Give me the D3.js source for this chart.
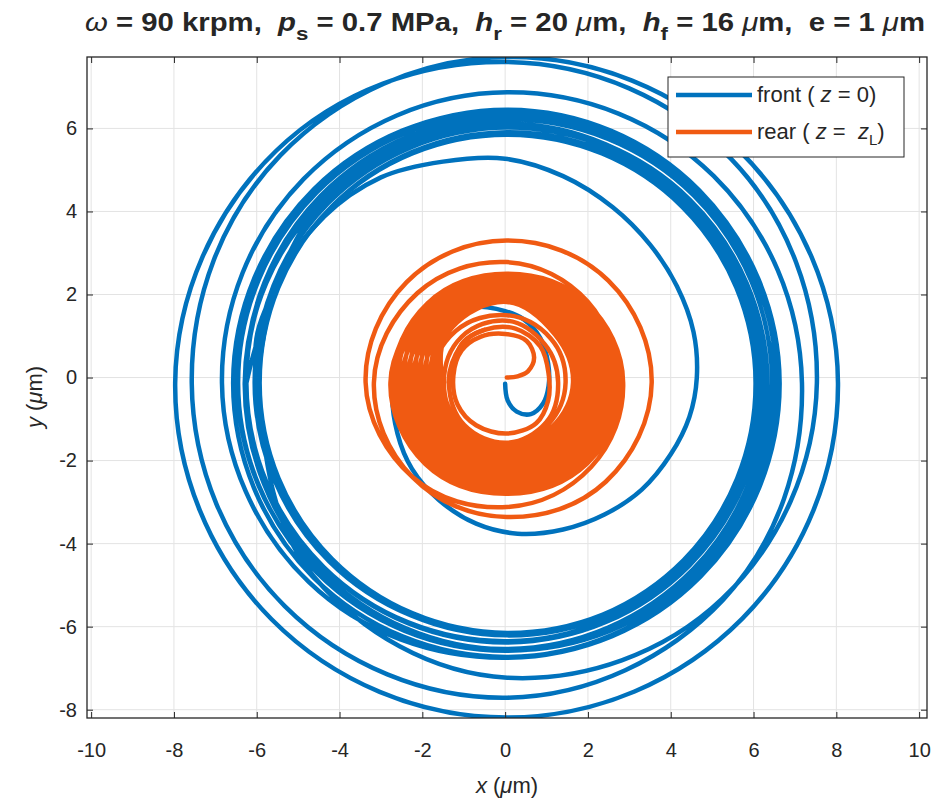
<!DOCTYPE html>
<html><head><meta charset="utf-8">
<script src="https://cdn.jsdelivr.net/npm/d3@7"></script>
<style>
body{margin:0;background:#fff}
text{font-family:"Liberation Sans",Arial,Helvetica,sans-serif;white-space:pre;fill:#262626}
</style>
</head><body>
<svg id="chart" width="940" height="800"></svg>
<script>
// ---------- data ----------
const xTicks = [-10,-8,-6,-4,-2,0,2,4,6,8,10];
const yTicks = [-8,-6,-4,-2,0,2,4,6];
const xDomain = [-10.1, 10.19];
const yDomain = [-8.2, 7.72];

// lap readings are radii (µm) about a centre, taken at these headings (degrees), counter-clockwise
const headings = [180,225,270,315,0,45,90,135];

// front (z = 0): start of the orbit, read as x,y points
const frontStart = [
  [0.00,-0.15],[0.06,-0.55],[0.28,-0.82],[0.62,-0.88],[0.92,-0.62],[1.05,-0.20],
  [1.04,0.33],[0.85,0.95],[0.45,1.40],[0.00,1.60],[-0.90,1.72],[-1.77,1.62],
  [-2.40,0.90],[-2.72,-0.35],[-2.60,-1.35],[-2.25,-2.20],[-1.60,-2.95],[-0.70,-3.52],
  [0.30,-3.76],[1.40,-3.66],[2.40,-3.30],[3.30,-2.70],[4.00,-1.85],[4.45,-0.95],
  [4.63,0.00],[4.55,1.10],[4.15,2.20],[3.50,3.20],[2.60,4.10],[1.40,4.85],
  [0.00,5.27],[-1.50,5.20],[-3.00,4.82],[-4.40,3.85],[-5.50,2.30]
];
const frontCentre = [0.05,-0.13];
const frontLaps = [
  [6.05,6.60,7.10,7.35,7.48,7.64,7.73,7.90],
  [8.02,8.05,8.06,8.03,7.99,7.92,7.85,7.75],
  [7.62,7.60,7.58,7.38,7.12,7.05,7.00,6.95],
  [6.89,6.78,6.62,6.60,6.58,6.55,6.52,6.50],
  [6.50,6.48,6.45,6.42,6.40,6.38,6.35,6.33],
  [6.30,6.28,6.25,6.22,6.20,6.18,6.15,6.12],
  [6.10,6.08,6.05,6.03,6.00,5.99,5.98,6.00],
  [6.02,6.05,6.08,6.12,6.16,6.20,6.25,6.30],
  [6.34,6.38,6.42,6.46,6.50,6.54,6.57,6.60],
  [6.62,6.62,6.60,6.56,6.52,6.47,6.42,6.37],
  [6.32,6.27,6.22,6.17,6.12,6.08,6.04,6.00],
  [5.98,5.99,6.02,6.06,6.11,6.16,6.21,6.27],
  [6.33,6.39,6.44,6.49,6.53,6.56,6.58,6.56],
  [6.52,6.47,6.41,6.35,6.29,6.24,6.19,6.14],
  [6.09,6.06,6.04,6.05,6.08,6.13,6.18,6.24],
  [6.30]
];

// rear (z = zL)
const rearStart = [
  [0.04,0.00],[0.30,0.03],[0.55,0.15],[0.70,0.48],[0.52,0.88],[0.00,1.05],
  [-0.60,0.98],[-1.05,0.65],[-1.25,0.05],[-1.15,-0.65],[-0.70,-1.15],[0.05,-1.35],
  [0.75,-1.10],[1.04,-0.55],[1.05,0.10],[0.85,0.75],[0.25,1.18],[-0.50,1.15],[-1.05,0.80]
];
const rearCentre = [0.04,-0.12];
const rearLaps = [
  [1.40,1.45,1.45,1.35,1.24,1.30,1.49,1.55],
  [1.52,1.55,1.52,1.42,1.42,1.50,1.62,1.75],
  [1.85,2.05,2.25,2.45,2.62,2.76,2.90,3.05],
  [3.21,3.22,3.24,3.38,3.50,3.47,3.42,3.42],
  [3.41,3.22,3.00,2.88,2.81,2.72,2.62,2.70],
  [2.77,2.74,2.65,2.71,2.77,2.69,2.60,2.67],
  [2.63,2.60,2.52,2.58,2.64,2.57,2.52,2.58],
  [2.49,2.46,2.40,2.44,2.50,2.45,2.45,2.49],
  [2.35,2.32,2.28,2.30,2.37,2.32,2.37,2.39],
  [2.21,2.18,2.15,2.16,2.23,2.20,2.30,2.30],
  [2.07,2.04,2.03,2.03,2.10,2.08,2.22,2.21],
  [1.93,1.90,1.91,1.89,1.96,1.96,2.14,2.11],
  [1.79,1.76,1.78,1.75,1.83,1.84,2.07,2.02],
  [1.65,1.62,1.66,1.61,1.69,1.72,1.99,1.93],
  [1.56,1.53,1.58,1.53,1.60,1.64,1.94,1.87],
  [1.71,1.68,1.72,1.68,1.75,1.77,2.03,1.97],
  [1.85,1.82,1.84,1.81,1.89,1.90,2.10,2.06],
  [1.99,1.96,1.96,1.95,2.02,2.02,2.18,2.16],
  [2.13,2.10,2.09,2.09,2.16,2.14,2.25,2.25],
  [2.27,2.24,2.21,2.23,2.29,2.26,2.33,2.34],
  [2.41,2.38,2.33,2.36,2.43,2.38,2.41,2.44],
  [2.55,2.52,2.46,2.50,2.56,2.50,2.48,2.53],
  [2.69,2.66,2.58,2.64,2.70,2.62,2.56,2.62],
  [2.81,2.78,2.68,2.75,2.81,2.72,2.62,2.70],
  [2.66,2.62,2.54]
];

const frontColor = "#0072BD";
const rearColor = "#F05A12";

// ---------- layout ----------
const svg = d3.select("#chart");
const L = 87, R = 927, T = 57, B = 718;
const x = d3.scaleLinear().domain(xDomain).range([L, R]);
const y = d3.scaleLinear().domain(yDomain).range([B, T]);

function lapPoints(centre, laps) {
  const pts = [];
  laps.forEach(lap => lap.forEach((r, k) => {
    const a = headings[k] * Math.PI / 180;
    pts.push([centre[0] + r * Math.cos(a), centre[1] + r * Math.sin(a)]);
  }));
  return pts;
}

svg.append("defs").append("clipPath").attr("id", "clip")
  .append("rect").attr("x", L).attr("y", T).attr("width", R - L).attr("height", B - T);

// grid
const grid = svg.append("g");
grid.selectAll(".gx").data(xTicks).join("line")
  .attr("x1", d => x(d)).attr("x2", d => x(d)).attr("y1", T).attr("y2", B)
  .attr("stroke", "#e3e3e3").attr("stroke-width", 1);
grid.selectAll(".gy").data(yTicks).join("line")
  .attr("y1", d => y(d)).attr("y2", d => y(d)).attr("x1", L).attr("x2", R)
  .attr("stroke", "#e3e3e3").attr("stroke-width", 1);

// traces
const startLine = d3.line().x(d => x(d[0])).y(d => y(d[1])).curve(d3.curveCatmullRom.alpha(0.5));
const lapLine = d3.line().x(d => x(d[0])).y(d => y(d[1])).curve(d3.curveCardinal.tension(-0.12));
const traces = svg.append("g").attr("clip-path", "url(#clip)");
function drawTrace(start, centre, laps, color) {
  const lp = lapPoints(centre, laps);
  const seg1 = start.concat([lp[0]]);
  const seg2 = start.slice(-2).concat(lp);
  [[startLine, seg1], [lapLine, seg2]].forEach(([gen, pts]) => {
    traces.append("path").attr("d", gen(pts)).attr("fill", "none")
      .attr("stroke", color).attr("stroke-width", 4.5)
      .attr("stroke-linejoin", "round").attr("stroke-linecap", "round");
  });
}
drawTrace(frontStart, frontCentre, frontLaps, frontColor);
drawTrace(rearStart, rearCentre, rearLaps, rearColor);

// axes (MATLAB style box, inward ticks)
const axCol = "#262626";
const tickLen = 6;
const gB = svg.append("g").attr("transform", `translate(0,${B})`)
  .call(d3.axisBottom(x).tickValues(xTicks).tickSize(-tickLen).tickPadding(25).tickFormat(d3.format("d")));
const gTop = svg.append("g").attr("transform", `translate(0,${T})`)
  .call(d3.axisTop(x).tickValues(xTicks).tickSize(-tickLen).tickFormat(""));
const gL = svg.append("g").attr("transform", `translate(${L},0)`)
  .call(d3.axisLeft(y).tickValues(yTicks).tickSize(-tickLen).tickPadding(10).tickFormat(d3.format("d")));
const gR = svg.append("g").attr("transform", `translate(${R},0)`)
  .call(d3.axisRight(y).tickValues(yTicks).tickSize(-tickLen).tickFormat(""));
[gB, gTop, gL, gR].forEach(g => {
  g.select(".domain").remove();
  g.selectAll(".tick line").attr("stroke", axCol).attr("stroke-width", 1);
  g.selectAll(".tick text").attr("fill", axCol).style("font-size", "20px")
   .style("font-family", "'Liberation Sans',Arial,sans-serif");
});
gB.selectAll(".tick text").text(d => d < 0 ? "-" + Math.abs(d) : d);
gL.selectAll(".tick text").text(d => d < 0 ? "-" + Math.abs(d) : d);
svg.append("rect").attr("x", L).attr("y", T).attr("width", R - L).attr("height", B - T)
  .attr("fill", "none").attr("stroke", axCol).attr("stroke-width", 1.3);

// title
const title = svg.append("text").attr("x", 505).attr("y", 31).attr("text-anchor", "middle")
  .attr("textLength", 840).attr("lengthAdjust", "spacingAndGlyphs")
  .style("font-size", "25px").style("font-weight", "bold");
function ts(sel, txt, opts = {}) {
  const t = sel.append("tspan").text(txt);
  if (opts.italic) t.style("font-style", "italic");
  if (opts.normal) t.style("font-weight", "normal");
  if (opts.dy) t.attr("dy", opts.dy);
  if (opts.size) t.style("font-size", opts.size);
  return t;
}
ts(title, "ω", {italic: true, normal: true});
ts(title, " = 90 krpm,  ");
ts(title, "p", {italic: true});
ts(title, "s", {dy: 9, size: "19px"});
ts(title, " = 0.7 MPa,  ", {dy: -9});
ts(title, "h", {italic: true});
ts(title, "r", {dy: 9, size: "19px"});
ts(title, " = 20 ", {dy: -9});
ts(title, "μ", {italic: true, normal: true});
ts(title, "m,  ");
ts(title, "h", {italic: true});
ts(title, "f", {dy: 9, size: "19px"});
ts(title, " = 16 ", {dy: -9});
ts(title, "μ", {italic: true, normal: true});
ts(title, "m,  e = 1 ");
ts(title, "μ", {italic: true, normal: true});
ts(title, "m");

// axis labels
const xl = svg.append("text").attr("x", 507).attr("y", 793).attr("text-anchor", "middle").style("font-size", "22px");
ts(xl, "x", {italic: true}); ts(xl, " ("); ts(xl, "μ", {italic: true}); ts(xl, "m)");
const yl = svg.append("text").attr("transform", "translate(42,397) rotate(-90)").attr("text-anchor", "middle").style("font-size", "22px");
ts(yl, "y", {italic: true}); ts(yl, " ("); ts(yl, "μ", {italic: true}); ts(yl, "m)");

// legend
const lg = svg.append("g");
lg.append("rect").attr("x", 668).attr("y", 77).attr("width", 236).attr("height", 80)
  .attr("fill", "#fff").attr("stroke", axCol).attr("stroke-width", 1);
const legendItems = [
  {color: frontColor, parts: [["front ( ", false], ["z", true], [" = 0)", false]]},
  {color: rearColor, parts: [["rear ( ", false], ["z", true], [" =  ", false], ["z", true], ["L", false, true], [")", false, false, true]]}
];
legendItems.forEach((it, i) => {
  const yy = 95 + i * 37;
  lg.append("line").attr("x1", 676).attr("x2", 752).attr("y1", yy).attr("y2", yy)
    .attr("stroke", it.color).attr("stroke-width", 4.5);
  const t = lg.append("text").attr("x", 757).attr("y", yy + 7).style("font-size", "22px");
  it.parts.forEach(p => {
    const s = t.append("tspan").text(p[0]);
    if (p[1]) s.style("font-style", "italic");
    if (p[2]) s.attr("dy", 6).style("font-size", "15px");
    if (p[3]) s.attr("dy", -6);
  });
});
</script>
</body></html>
